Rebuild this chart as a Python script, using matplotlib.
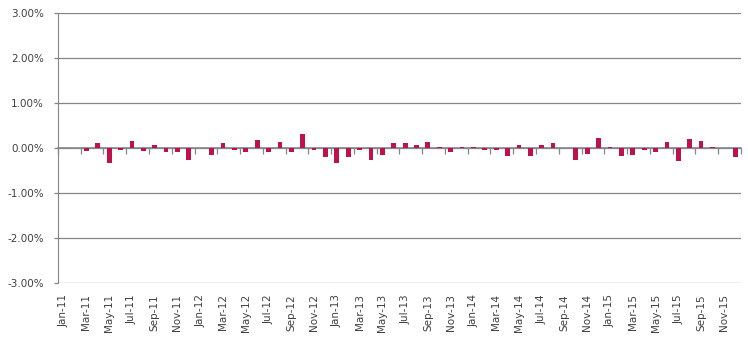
import numpy as np
import matplotlib.pyplot as plt
from matplotlib.ticker import FuncFormatter

months = ['Jan', 'Feb', 'Mar', 'Apr', 'May', 'Jun', 'Jul', 'Aug', 'Sep', 'Oct', 'Nov', 'Dec']
years = ['11', '12', '13', '14', '15']
categories = [m + '-' + y for y in years for m in months]

# monthly return, in %
values = [
    0.00, 0.00, -0.06, 0.11, -0.33, -0.04, 0.16, -0.06, 0.07, -0.08, -0.08, -0.26,
    0.00, -0.15, 0.11, -0.04, -0.08, 0.18, -0.10, 0.13, -0.10, 0.31, -0.04, -0.21,
    -0.33, -0.19, -0.04, -0.26, -0.15, 0.11, 0.11, 0.07, 0.13, 0.02, -0.08, 0.02,
    0.02, -0.04, -0.04, -0.17, 0.07, -0.17, 0.07, 0.11, 0.00, -0.26, -0.13, 0.22,
    0.02, -0.17, -0.15, -0.04, -0.10, 0.13, -0.28, 0.20, 0.16, 0.02, 0.00, -0.19,
]

grey = '#868686'
bar_col = '#BE1250'
txt_col = '#404040'

fig = plt.figure(figsize=(7.48, 3.55), dpi=100)
ax = fig.add_axes([0.0775, 0.2028, 0.913, 0.7606])

x = np.arange(len(categories))
ax.bar(x, values, width=0.42, color=bar_col, zorder=3)

ax.set_xlim(-0.5, len(categories) - 0.5)
ax.set_ylim(-3, 3)
ax.set_yticks([-3, -2, -1, 0, 1, 2, 3])
ax.yaxis.set_major_formatter(FuncFormatter(lambda v, p: '%.2f%%' % v))
ax.grid(axis='y', color=grey, lw=0.9, zorder=0)
ax.set_axisbelow(True)

for s in ['top', 'right', 'bottom']:
    ax.spines[s].set_visible(False)
ax.spines['left'].set_color(grey)
ax.tick_params(axis='y', colors=grey, length=3, width=0.9, pad=7, labelsize=7.5, labelcolor=txt_col)

ax.set_xticks(x[::2])
ax.set_xticklabels(categories[::2], rotation=90)
ax.tick_params(axis='x', length=0, pad=8, labelsize=7.5, labelcolor=txt_col)

# category axis crossing at zero, ticks hanging below
sec = ax.secondary_xaxis(0.5)
sec.set_xticks(np.arange(-0.5, len(categories), 2))
sec.set_xticklabels([])
for s in sec.spines.values():
    s.set_color(grey)
    s.set_linewidth(1.2)
sec.tick_params(axis='x', colors=grey, length=4, width=0.9, direction='in')

plt.savefig('out.png', dpi=100)
